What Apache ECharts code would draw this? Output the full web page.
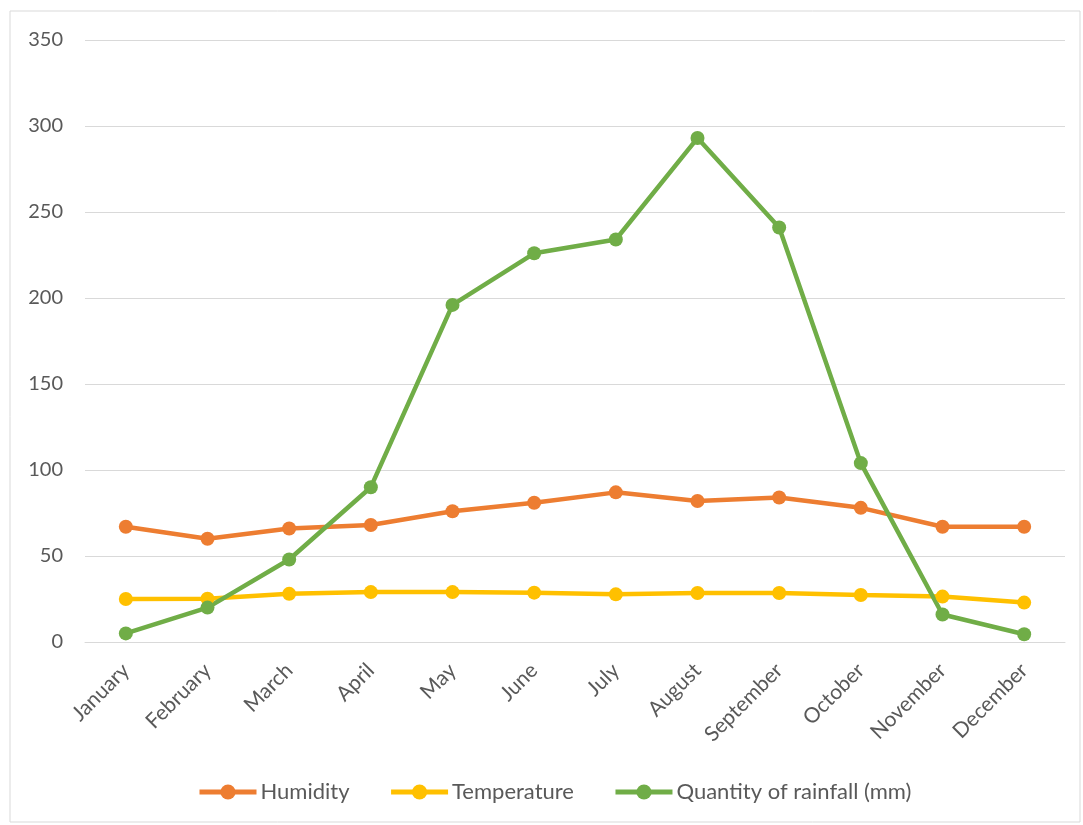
<!DOCTYPE html>
<html>
<head>
<meta charset="utf-8">
<script src="https://cdn.jsdelivr.net/npm/echarts@6/dist/echarts.min.js"></script>
<style>
  html, body { margin: 0; padding: 0; background: #ffffff; }
  #chart { width: 1083px; height: 825px; }
</style>
</head>
<body>
<div id="chart"></div>
<script>
// Monthly climate figures
const months = ['January', 'February', 'March', 'April', 'May', 'June',
                'July', 'August', 'September', 'October', 'November', 'December'];
const humidity = [67, 60, 66, 68, 76, 81, 87, 82, 84, 78, 67, 67];
const temperature = [25, 25.2, 28, 29, 29, 28.7, 27.7, 28.5, 28.5, 27.3, 26.4, 22.9];
const rainfall = [5, 20, 48, 90, 196, 226, 234, 293, 241, 104, 16, 4.5];
const seriesNames = ['Humidity', 'Temperature', 'Quantity of rainfall (mm)'];
const seriesColors = ['#ED7D31', '#FFC000', '#70AD47'];

const font = 'Lato, "Open Sans", sans-serif';
const textColor = '#595959';
const chart = echarts.init(document.getElementById('chart'), null, { renderer: 'canvas' });

function lineSeries(name, data, color) {
  return {
    name: name,
    type: 'line',
    data: data,
    symbol: 'circle',
    symbolSize: 14,
    lineStyle: { color: color, width: 4.5 },
    itemStyle: { color: color },
    emphasis: { disabled: true },
    animation: false
  };
}

chart.setOption({
  backgroundColor: '#ffffff',
  animation: false,
  graphic: [{
    type: 'rect',
    shape: { x: 10, y: 11, width: 1070, height: 811 },
    style: { fill: 'none', stroke: '#d9d9d9', lineWidth: 1 },
    silent: true
  }],
  grid: { left: 85, right: 18, top: 40, bottom: 183, containLabel: false },
  xAxis: {
    type: 'category',
    data: months,
    boundaryGap: true,
    axisLine: { show: true, lineStyle: { color: '#d9d9d9', width: 1 } },
    axisTick: { show: false },
    axisLabel: {
      rotate: 45,
      margin: 25,
      color: textColor,
      fontSize: 21,
      fontFamily: font,
      interval: 0
    }
  },
  yAxis: {
    type: 'value',
    min: 0,
    max: 350,
    interval: 50,
    axisLine: { show: false },
    axisTick: { show: false },
    splitLine: { lineStyle: { color: '#d9d9d9', width: 1 } },
    axisLabel: {
      margin: 22,
      color: textColor,
      fontSize: 20,
      fontFamily: font
    }
  },
  legend: {
    data: seriesNames,
    top: 776,
    left: 192,
    itemWidth: 57,
    itemHeight: 19,
    itemGap: 39,
    lineStyle: { width: 5 },
    textStyle: { color: textColor, fontSize: 22, fontFamily: font, padding: [0, 0, 0, -1] }
  },
  series: [
    lineSeries(seriesNames[0], humidity, seriesColors[0]),
    lineSeries(seriesNames[1], temperature, seriesColors[1]),
    lineSeries(seriesNames[2], rainfall, seriesColors[2])
  ]
});
</script>
</body>
</html>
